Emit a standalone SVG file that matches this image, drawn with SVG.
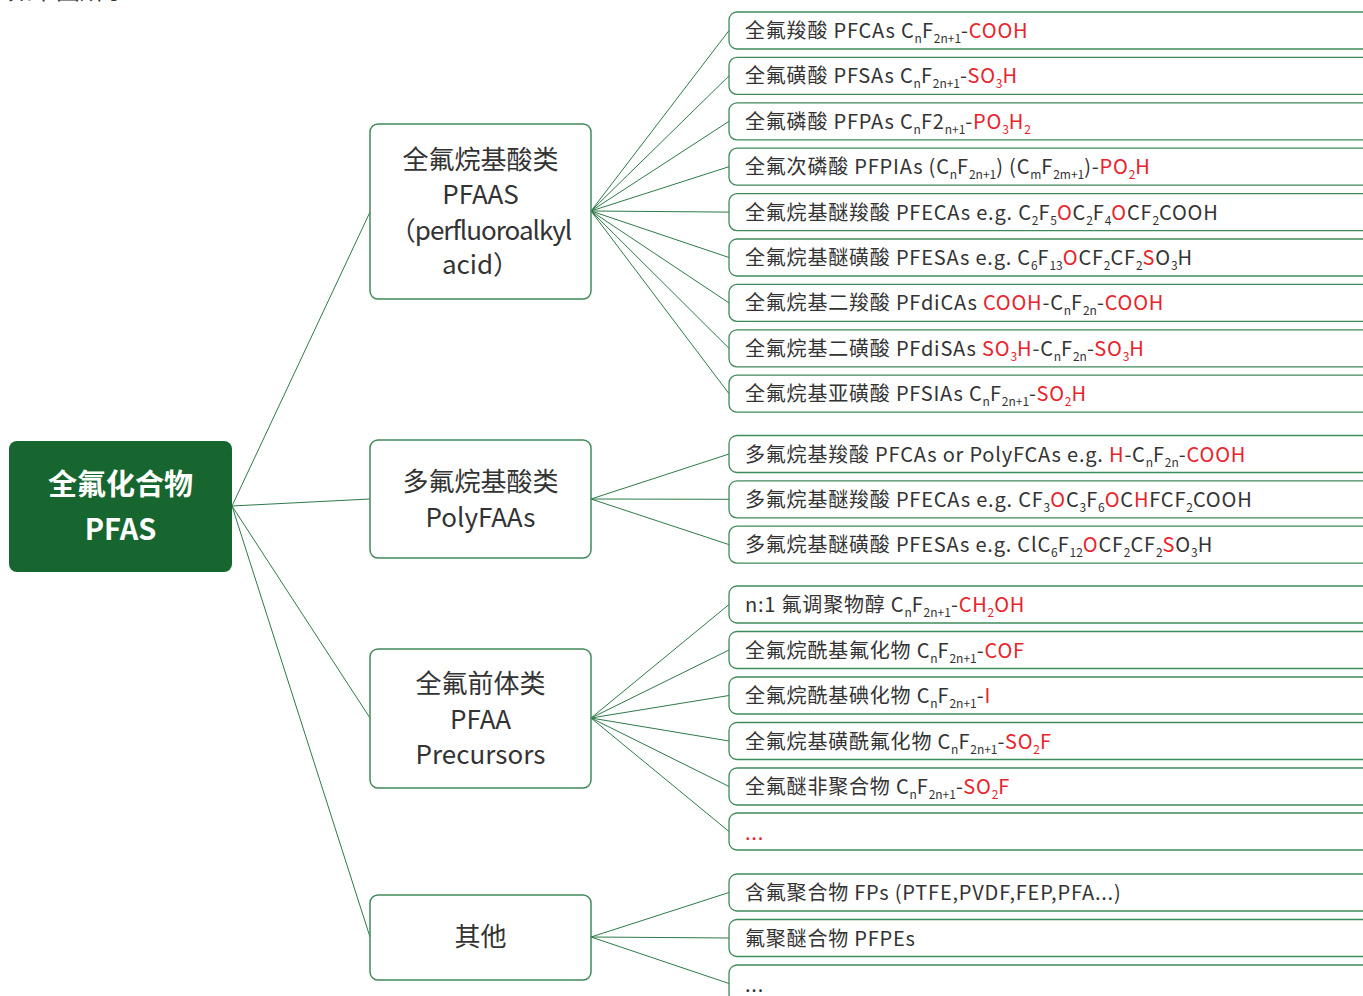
<svg xmlns="http://www.w3.org/2000/svg" width="1363" height="996" viewBox="0 0 1363 996">
<style>
text{font-family:"Noto Sans CJK SC","Noto Sans",sans-serif;fill:#333333}
.leaf rect{fill:#ffffff;stroke:#3f8a5a;stroke-width:1.3}
.lt{font-size:20px;letter-spacing:0.8px}
.cat rect{fill:#ffffff;stroke:#3f8a5a;stroke-width:1.5}
.ct{font-size:26px;text-anchor:middle}
.root rect{fill:#17652f}
.rt{font-size:29px;font-weight:bold;text-anchor:middle;fill:#ffffff}
.r{fill:#e8232b}
.s{font-size:12px;baseline-shift:-5px;letter-spacing:0}
#connectors line{stroke:#2e7a48;stroke-width:1;fill:none}
</style>
<text x="8" y="-1" style="font-size:24px">如下图所示：</text>
<g id="connectors">
<line x1="232" y1="506" x2="370" y2="212"/>
<line x1="232" y1="506" x2="370" y2="499"/>
<line x1="232" y1="506" x2="370" y2="718"/>
<line x1="232" y1="506" x2="370" y2="937"/>
<line x1="591" y1="211" x2="729" y2="30.5"/>
<line x1="591" y1="211" x2="729" y2="75.9"/>
<line x1="591" y1="211" x2="729" y2="121.3"/>
<line x1="591" y1="211" x2="729" y2="166.7"/>
<line x1="591" y1="211" x2="729" y2="212.1"/>
<line x1="591" y1="211" x2="729" y2="257.5"/>
<line x1="591" y1="211" x2="729" y2="302.9"/>
<line x1="591" y1="211" x2="729" y2="348.3"/>
<line x1="591" y1="211" x2="729" y2="393.7"/>
<line x1="591" y1="499" x2="729" y2="454"/>
<line x1="591" y1="499" x2="729" y2="499.3"/>
<line x1="591" y1="499" x2="729" y2="544.6"/>
<line x1="591" y1="718" x2="729" y2="604.5"/>
<line x1="591" y1="718" x2="729" y2="650"/>
<line x1="591" y1="718" x2="729" y2="695.5"/>
<line x1="591" y1="718" x2="729" y2="741"/>
<line x1="591" y1="718" x2="729" y2="786.5"/>
<line x1="591" y1="718" x2="729" y2="831.5"/>
<line x1="591" y1="937" x2="729" y2="892.5"/>
<line x1="591" y1="937" x2="729" y2="938"/>
<line x1="591" y1="937" x2="729" y2="983.5"/>
</g>
<g id="root" class="root">
<rect x="9" y="441" width="223" height="131" rx="8"/>
<text class="rt" x="120.5" y="495">全氟化合物</text>
<text class="rt" x="120.5" y="540">PFAS</text>
</g>
<g id="cat-pfaas" class="cat">
<rect x="370" y="124" width="221" height="175" rx="8"/>
<text class="ct" x="480.5" y="169">全氟烷基酸类</text>
<text class="ct" x="480.5" y="204">PFAAS</text>
<text class="ct" x="480.5" y="240" style="letter-spacing:-1px">（perfluoroalkyl</text>
<text class="ct" x="480.5" y="274">acid）</text>
</g>
<g id="cat-poly" class="cat">
<rect x="370" y="440" width="221" height="118" rx="8"/>
<text class="ct" x="480.5" y="491">多氟烷基酸类</text>
<text class="ct" x="480.5" y="527">PolyFAAs</text>
</g>
<g id="cat-pre" class="cat">
<rect x="370" y="649" width="221" height="139" rx="8"/>
<text class="ct" x="480.5" y="693">全氟前体类</text>
<text class="ct" x="480.5" y="729">PFAA</text>
<text class="ct" x="480.5" y="764">Precursors</text>
</g>
<g id="cat-other" class="cat">
<rect x="370" y="895" width="221" height="85" rx="8"/>
<text class="ct" x="480.5" y="946">其他</text>
</g>
<g id="leaf1" class="leaf"><rect x="729" y="12" width="700" height="37" rx="8"/><text class="lt" x="745" y="38">全氟羧酸 PFCAs C<tspan class="s">n</tspan>F<tspan class="s">2n+1</tspan>-<tspan class="r">COOH</tspan></text></g>
<g id="leaf2" class="leaf"><rect x="729" y="57.4" width="700" height="37" rx="8"/><text class="lt" x="745" y="83.4">全氟磺酸 PFSAs C<tspan class="s">n</tspan>F<tspan class="s">2n+1</tspan>-<tspan class="r">SO</tspan><tspan class="s r">3</tspan><tspan class="r">H</tspan></text></g>
<g id="leaf3" class="leaf"><rect x="729" y="102.8" width="700" height="37" rx="8"/><text class="lt" x="745" y="128.8">全氟磷酸 PFPAs C<tspan class="s">n</tspan>F2<tspan class="s">n+1</tspan>-<tspan class="r">PO</tspan><tspan class="s r">3</tspan><tspan class="r">H</tspan><tspan class="s r">2</tspan></text></g>
<g id="leaf4" class="leaf"><rect x="729" y="148.2" width="700" height="37" rx="8"/><text class="lt" x="745" y="174.2">全氟次磷酸 PFPIAs (C<tspan class="s">n</tspan>F<tspan class="s">2n+1</tspan>) (C<tspan class="s">m</tspan>F<tspan class="s">2m+1</tspan>)-<tspan class="r">PO</tspan><tspan class="s r">2</tspan><tspan class="r">H</tspan></text></g>
<g id="leaf5" class="leaf"><rect x="729" y="193.6" width="700" height="37" rx="8"/><text class="lt" x="745" y="219.6">全氟烷基醚羧酸 PFECAs e.g. C<tspan class="s">2</tspan>F<tspan class="s">5</tspan><tspan class="r">O</tspan>C<tspan class="s">2</tspan>F<tspan class="s">4</tspan><tspan class="r">O</tspan>CF<tspan class="s">2</tspan>COOH</text></g>
<g id="leaf6" class="leaf"><rect x="729" y="239" width="700" height="37" rx="8"/><text class="lt" x="745" y="265">全氟烷基醚磺酸 PFESAs e.g. C<tspan class="s">6</tspan>F<tspan class="s">13</tspan><tspan class="r">O</tspan>CF<tspan class="s">2</tspan>CF<tspan class="s">2</tspan><tspan class="r">S</tspan>O<tspan class="s">3</tspan>H</text></g>
<g id="leaf7" class="leaf"><rect x="729" y="284.4" width="700" height="37" rx="8"/><text class="lt" x="745" y="310.4">全氟烷基二羧酸 PFdiCAs <tspan class="r">COOH</tspan>-C<tspan class="s">n</tspan>F<tspan class="s">2n</tspan>-<tspan class="r">COOH</tspan></text></g>
<g id="leaf8" class="leaf"><rect x="729" y="329.8" width="700" height="37" rx="8"/><text class="lt" x="745" y="355.8">全氟烷基二磺酸 PFdiSAs <tspan class="r">SO</tspan><tspan class="s r">3</tspan><tspan class="r">H</tspan>-C<tspan class="s">n</tspan>F<tspan class="s">2n</tspan>-<tspan class="r">SO</tspan><tspan class="s r">3</tspan><tspan class="r">H</tspan></text></g>
<g id="leaf9" class="leaf"><rect x="729" y="375.2" width="700" height="37" rx="8"/><text class="lt" x="745" y="401.2">全氟烷基亚磺酸 PFSIAs C<tspan class="s">n</tspan>F<tspan class="s">2n+1</tspan>-<tspan class="r">SO</tspan><tspan class="s r">2</tspan><tspan class="r">H</tspan></text></g>
<g id="leaf10" class="leaf"><rect x="729" y="435.5" width="700" height="37" rx="8"/><text class="lt" x="745" y="461.5">多氟烷基羧酸 PFCAs or PolyFCAs e.g. <tspan class="r">H</tspan>-C<tspan class="s">n</tspan>F<tspan class="s">2n</tspan>-<tspan class="r">COOH</tspan></text></g>
<g id="leaf11" class="leaf"><rect x="729" y="480.8" width="700" height="37" rx="8"/><text class="lt" x="745" y="506.8">多氟烷基醚羧酸 PFECAs e.g. CF<tspan class="s">3</tspan><tspan class="r">O</tspan>C<tspan class="s">3</tspan>F<tspan class="s">6</tspan><tspan class="r">O</tspan>C<tspan class="r">H</tspan>FCF<tspan class="s">2</tspan>COOH</text></g>
<g id="leaf12" class="leaf"><rect x="729" y="526.1" width="700" height="37" rx="8"/><text class="lt" x="745" y="552.1">多氟烷基醚磺酸 PFESAs e.g. ClC<tspan class="s">6</tspan>F<tspan class="s">12</tspan><tspan class="r">O</tspan>CF<tspan class="s">2</tspan>CF<tspan class="s">2</tspan><tspan class="r">S</tspan>O<tspan class="s">3</tspan>H</text></g>
<g id="leaf13" class="leaf"><rect x="729" y="586" width="700" height="37" rx="8"/><text class="lt" x="745" y="612">n:1 氟调聚物醇 C<tspan class="s">n</tspan>F<tspan class="s">2n+1</tspan>-<tspan class="r">CH</tspan><tspan class="s r">2</tspan><tspan class="r">OH</tspan></text></g>
<g id="leaf14" class="leaf"><rect x="729" y="631.5" width="700" height="37" rx="8"/><text class="lt" x="745" y="657.5">全氟烷酰基氟化物 C<tspan class="s">n</tspan>F<tspan class="s">2n+1</tspan>-<tspan class="r">COF</tspan></text></g>
<g id="leaf15" class="leaf"><rect x="729" y="677" width="700" height="37" rx="8"/><text class="lt" x="745" y="703">全氟烷酰基碘化物 C<tspan class="s">n</tspan>F<tspan class="s">2n+1</tspan>-<tspan class="r">I</tspan></text></g>
<g id="leaf16" class="leaf"><rect x="729" y="722.5" width="700" height="37" rx="8"/><text class="lt" x="745" y="748.5">全氟烷基磺酰氟化物 C<tspan class="s">n</tspan>F<tspan class="s">2n+1</tspan>-<tspan class="r">SO</tspan><tspan class="s r">2</tspan><tspan class="r">F</tspan></text></g>
<g id="leaf17" class="leaf"><rect x="729" y="768" width="700" height="37" rx="8"/><text class="lt" x="745" y="794">全氟醚非聚合物 C<tspan class="s">n</tspan>F<tspan class="s">2n+1</tspan>-<tspan class="r">SO</tspan><tspan class="s r">2</tspan><tspan class="r">F</tspan></text></g>
<g id="leaf18" class="leaf"><rect x="729" y="813" width="700" height="37" rx="8"/><text class="lt r" x="745" y="840">...</text></g>
<g id="leaf19" class="leaf"><rect x="729" y="874" width="700" height="37" rx="8"/><text class="lt" x="745" y="900">含氟聚合物 FPs (PTFE,PVDF,FEP,PFA...)</text></g>
<g id="leaf20" class="leaf"><rect x="729" y="919.5" width="700" height="37" rx="8"/><text class="lt" x="745" y="945.5">氟聚醚合物 PFPEs</text></g>
<g id="leaf21" class="leaf"><rect x="729" y="965" width="700" height="37" rx="8"/><text class="lt" x="745" y="992">...</text></g>
</svg>
